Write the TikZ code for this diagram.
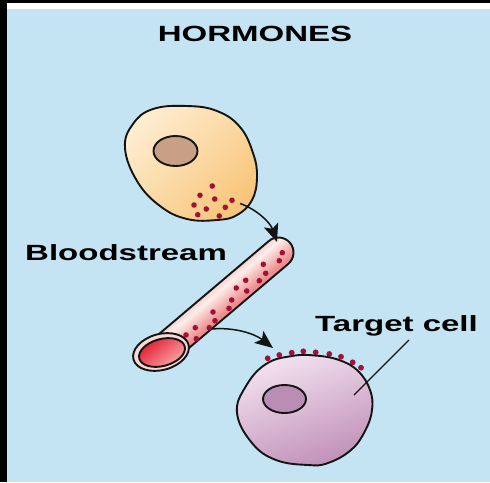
\documentclass[tikz,border=0pt]{standalone}
\usepackage{fontspec}
\usetikzlibrary{arrows.meta,calc}
\newfontfamily\labelfont{Liberation Sans}[FakeStretch=1.5]

\definecolor{bgblue}{RGB}{196,228,243}
\definecolor{ink}{RGB}{20,20,20}
\definecolor{granule}{RGB}{165,16,56}
\definecolor{creamA}{RGB}{254,236,206}
\definecolor{creamB}{RGB}{248,198,122}
\definecolor{nucA}{RGB}{200,160,134}
\definecolor{lilacA}{RGB}{243,226,240}
\definecolor{lilacB}{RGB}{192,144,184}
\definecolor{nucB}{RGB}{186,142,180}
\definecolor{vesselA}{RGB}{255,240,236}
\definecolor{vesselB}{RGB}{238,140,140}
\definecolor{rimcol}{RGB}{247,218,216}
\definecolor{lumenA}{RGB}{226,28,48}
\definecolor{lumenB}{RGB}{253,178,178}

\tikzset{
  outline/.style={draw=ink, line width=1.9pt},
  granuledot/.style={fill=granule, draw=none},
  textlabel/.style={font=\labelfont\bfseries\fontsize{22}{26}\selectfont,
                    inner sep=0pt, text=black},
  flow/.style={draw=ink, line width=1.5pt,
               -{Stealth[length=18pt,width=15pt,inset=4pt]}},
  pointer/.style={draw=ink, line width=1.4pt},
}

\begin{document}
\begin{tikzpicture}[x=1pt,y=-1pt]
\useasboundingbox (0,0) rectangle (490,482);
% backdrop and frame
\fill[bgblue] (0,0) rectangle (490,482);
\fill[black] (0,0) rectangle (7,482);
\fill[black] (0,0) rectangle (490,3);
\fill[white] (7,3) rectangle (490,9);

% labels
\node[textlabel, anchor=base] (title) at (255,41.5) {HORMONES};
\node[textlabel, anchor=base west] (blood) at (25,260.5) {Bloodstream};
\node[textlabel, anchor=base west] (target) at (315,331.5) {Target cell};

% ---- secreting cell ----
\path[outline, top color=creamA, bottom color=creamB, shading angle=45]
  plot[smooth cycle, tension=0.7] coordinates {
    (125,148) (133,124) (153,109) (187,106) (217,111) (240,127)
    (253,153) (257,177) (252,200) (237,215) (217,220) (187,219)
    (160,206) (137,181)};
\draw[outline, fill=nucA] (175.5,151) ellipse[x radius=22, y radius=15];
\foreach \p in {(212.3,186),(200,195.3),(214.7,199),(232,200.3),(194,205),
                (206.3,209),(225.3,207.3),(197.7,214.7),(219.3,216)}
  \fill[granuledot] \p circle[radius=2.8];

% ---- blood vessel ----
\coordinate (O) at (161,352);
\coordinate (Oin) at (162,352.5);
\begin{scope}[shift={(O)}, rotate=40.26]
  \begin{scope}
    \clip (0,-15) -- (154,-15) arc[start angle=-90, end angle=90, radius=15]
          -- (0,15) -- cycle;
    \foreach \k in {0,...,30}{
      \pgfmathsetmacro\t{\k-15}
      \pgfmathsetmacro\m{min(100,abs(\t+8)/20*100)}
      \draw[draw=vesselB!\m!vesselA, line width=1.3pt] (-5,\t) -- (175,\t);
    }
  \end{scope}
  \draw[outline] (0,-15) -- (154,-15) arc[start angle=-90, end angle=90, radius=15]
          -- (0,15);
\end{scope}
\foreach \p in {(282.3,252.7),(279.3,260.7),(263.3,264.3),(265.7,273.3),
                (245.7,280.3),(259.3,280.7),(236.3,288),(246.7,291),
                (231.7,300),(229,308.3),(213,312),(215,320.7),
                (195.3,327.7),(209.3,327.7),(186,335),(196.3,338.7)}
  \fill[granuledot] \p circle[radius=2.8];
% open end of the vessel
\draw[outline, fill=rimcol, rotate around={15:(O)}]
  (O) ellipse[x radius=28.5, y radius=18];
\path[outline, top color=lumenA, bottom color=lumenB, shading angle=40,
      rotate around={15:(Oin)}]
  (Oin) ellipse[x radius=23.5, y radius=13.5];

% ---- target cell ----
\foreach \p in {(267.7,358.3),(279.3,355),(291.7,352.7),(303.3,351.3),
                (315.7,352.3),(329.3,354),(341,356.7),(352.7,362.3),(361,367.7)}
  \fill[granuledot] \p circle[radius=2.9];
\path[outline, top color=lilacA, bottom color=lilacB, shading angle=20]
  plot[smooth cycle, tension=0.7] coordinates {
    (237,413) (246,386) (266,364) (292,356) (315,355.5) (339,360)
    (358,371) (370,390) (372,410) (365,431) (351,450) (328,463)
    (308,465) (276,460) (252,443)};
\draw[outline, fill=nucB] (284.5,399) ellipse[x radius=21.5, y radius=14];

% ---- connectors ----
\coordinate (s1) at (240,203.5);
\coordinate (t1) at (277,242);
\draw[flow] (s1) .. controls (256,209) and (270,222) .. (t1);
\coordinate (s2) at (212,329);
\coordinate (t2) at (273,348);
\draw[flow] (s2) .. controls (235,327) and (255,334) .. (t2);
\coordinate (p1) at (409,340);
\coordinate (p2) at (354,395);
\draw[pointer] (p1) -- (p2);
\end{tikzpicture}
\end{document}
